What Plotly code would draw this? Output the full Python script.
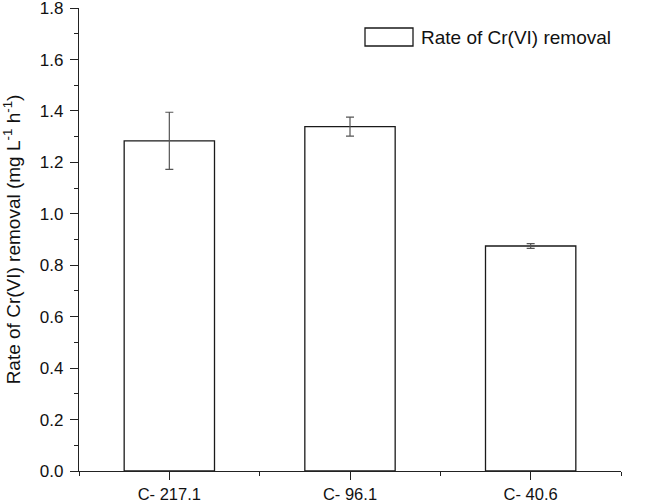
import plotly.graph_objects as go

categories = ["C- 217.1", "C- 96.1", "C- 40.6"]
rates = [1.284, 1.339, 0.875]
errors = [0.111, 0.037, 0.009]
legend_label = "Rate of Cr(VI) removal"
y_title = "Rate of Cr(VI) removal (mg L<sup>-1</sup> h<sup>-1</sup>)"
y_ticks = [0, 0.2, 0.4, 0.6, 0.8, 1.0, 1.2, 1.4, 1.6, 1.8]

xpos = list(range(len(categories)))
font = "Liberation Sans, Arial, sans-serif"

fig = go.Figure()
fig.add_trace(go.Bar(
    x=xpos, y=rates, width=0.5, name=legend_label,
    marker=dict(color="white", line=dict(color="#1a1a1a", width=1.3)),
    error_y=dict(type="data", array=errors, visible=True, color="#555555",
                 thickness=1.2, width=4),
    showlegend=False,
))

fig.update_layout(
    width=650, height=501,
    margin=dict(l=79, r=29, t=8, b=30),
    plot_bgcolor="white", paper_bgcolor="white",
    font=dict(family=font, size=16.5, color="#111111"),
    xaxis=dict(
        range=[-0.5, 2.5], tickvals=xpos, ticktext=categories,
        showline=True, linecolor="#222222", linewidth=1.2,
        ticks="outside", ticklen=8, tickcolor="#222222", tickwidth=1.2,
        showgrid=False, zeroline=False, automargin=False,
        ticklabelstandoff=0,
        minor=dict(ticks="outside", ticklen=4, tick0=0.5, dtick=1,
                   tickcolor="#222222", tickwidth=1.2, showgrid=False),
        tickfont=dict(size=16.5),
    ),
    yaxis=dict(
        range=[0, 1.8005], tickvals=y_ticks, tickformat=".1f",
        showline=True, linecolor="#222222", linewidth=1.2,
        ticks="outside", ticklen=8, tickcolor="#222222", tickwidth=1.2,
        showgrid=False, zeroline=False, ticklabeloverflow="allow",
        ticklabelstandoff=3,
        minor=dict(ticks="outside", ticklen=4, dtick=0.1,
                   tickcolor="#222222", tickwidth=1.2, showgrid=False),
        tickfont=dict(size=17),
        title=dict(text=y_title, font=dict(size=19), standoff=16),
        automargin=False,
    ),
)

# Legend drawn as a box + label
fig.add_shape(type="rect", xref="paper", yref="paper",
              x0=(365 - 79) / 542, x1=(413 - 79) / 542,
              y0=(471 - 46) / 463, y1=(471 - 28) / 463,
              line=dict(color="#1a1a1a", width=1.3), fillcolor="white")
fig.add_annotation(xref="paper", yref="paper",
                   x=(419 - 79) / 542, y=(471 - 37) / 463,
                   xanchor="left", yanchor="middle", showarrow=False,
                   text=legend_label, font=dict(size=19, family=font))

fig.write_html("out.html", config={"displayModeBar": False},
               post_script="document.body.style.margin='0';document.body.style.overflow='hidden';")
